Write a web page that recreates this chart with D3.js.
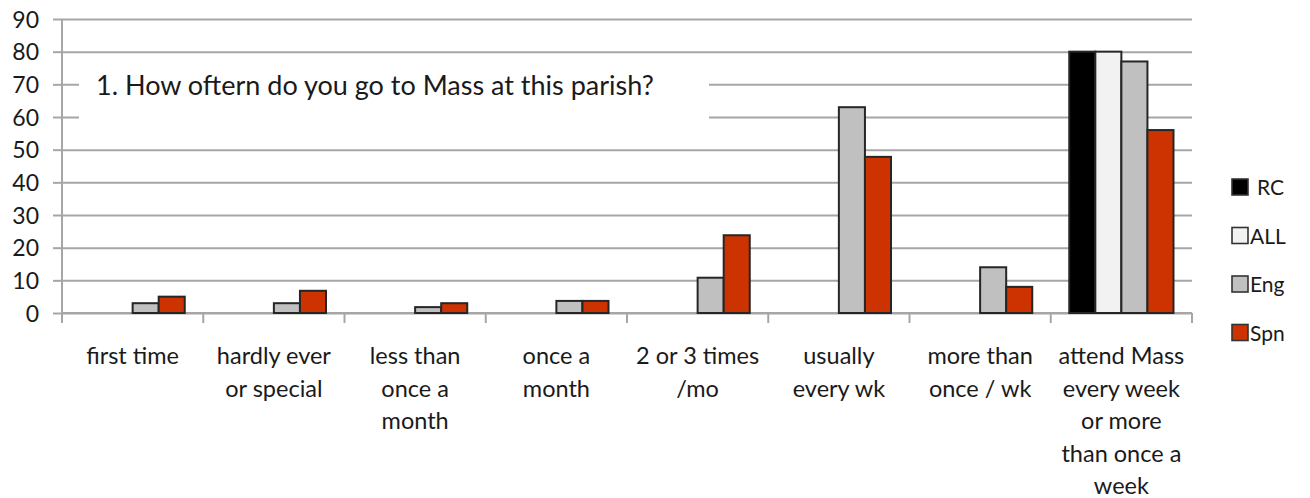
<!DOCTYPE html>
<html>
<head>
<meta charset="utf-8">
<script src="https://cdn.jsdelivr.net/npm/d3@7"></script>
<style>
  body { margin: 0; background: #fff; }
  svg text { font-family: Lato, "Open Sans", sans-serif; fill: #1a1a1a; }
</style>
</head>
<body>
<div id="container"></div>
<script>
var categories = [
    ["first time"],
    ["hardly ever", "or special"],
    ["less than", "once a", "month"],
    ["once a", "month"],
    ["2 or 3 times", "/mo"],
    ["usually", "every wk"],
    ["more than", "once / wk"],
    ["attend Mass", "every week", "or more", "than once a", "week"]
];
var seriesNames = ["RC", "ALL", "Eng", "Spn"];
var rcValues = [0, 0, 0, 0, 0, 0, 0, 80];
var allValues = [0, 0, 0, 0, 0, 0, 0, 80];
var engValues = [3, 3, 1.8, 3.7, 10.8, 63, 14, 77];
var spnValues = [5, 6.8, 3, 3.7, 23.8, 47.8, 8, 56];
var yTicks = [0, 10, 20, 30, 40, 50, 60, 70, 80, 90];
var titleText = "1. How oftern do you go to Mass at this parish?";

var colors = {RC: "#000000", ALL: "#f2f2f2", Eng: "#c0c0c0", Spn: "#cc3300"};
var width = 1310, height = 498;
var margin = {top: 19, left: 62, right: 118, bottom: 185}; // plot area

var svg = d3.select("#container").append("svg")
    .attr("width", width)
    .attr("height", height);

var innerW = width - margin.left - margin.right;
var innerH = height - margin.top - margin.bottom;

var chart = svg.append("g")
    .attr("transform", "translate(" + margin.left + "," + margin.top + ")");

var keys = categories.map(function (d, i) { return i; });
var x0 = d3.scaleBand().domain(keys).range([0, innerW]);
var x1 = d3.scaleBand().domain(seriesNames).range([18.5, x0.bandwidth() - 18.5]);
var y = d3.scaleLinear().domain([0, 90]).range([innerH, 0]);

// gridlines
chart.append("g")
    .attr("class", "grid")
    .call(d3.axisLeft(y).tickValues(yTicks).tickSize(-innerW).tickFormat(""))
    .call(function (g) {
        g.select(".domain").remove();
        g.selectAll("line").attr("stroke", "#a6a6a6").attr("stroke-width", 2);
    });

// y axis
chart.append("g")
    .attr("id", "y-axis")
    .call(d3.axisLeft(y).tickValues(yTicks).tickSize(9).tickPadding(14))
    .call(function (g) {
        g.select(".domain").attr("stroke", "#a6a6a6").attr("stroke-width", 2)
            .attr("d", "M0,0V" + (innerH + 10));
        g.selectAll("line").attr("stroke", "#a6a6a6").attr("stroke-width", 2);
        g.selectAll("text").style("font-size", "23px").style("font-family", "Lato, sans-serif")
            .attr("fill", "#1a1a1a").attr("dy", "0.36em");
    });

// title box covers part of the gridlines
chart.append("rect")
    .attr("x", 17)
    .attr("y", 48)
    .attr("width", 630)
    .attr("height", 60)
    .attr("fill", "#fff");

chart.append("text")
    .attr("x", 34)
    .attr("y", 76)
    .style("font-size", "27px")
    .text(titleText);

// x axis with category ticks
chart.append("g")
    .attr("id", "x-axis")
    .attr("transform", "translate(0," + innerH + ")")
    .call(function (g) {
        g.append("line").attr("x1", 0).attr("x2", innerW)
            .attr("stroke", "#a6a6a6").attr("stroke-width", 2);
        g.selectAll(".ctick")
            .data(d3.range(categories.length + 1))
            .enter().append("line")
            .attr("x1", function (d) { return d * x0.bandwidth(); })
            .attr("x2", function (d) { return d * x0.bandwidth(); })
            .attr("y1", 0).attr("y2", 10)
            .attr("stroke", "#a6a6a6").attr("stroke-width", 2);
    });

// category labels
var labels = chart.append("g").selectAll("text")
    .data(categories)
    .enter().append("text")
    .attr("text-anchor", "middle")
    .style("font-size", "23.5px")
    .attr("transform", function (d, i) {
        return "translate(" + (x0(i) + x0.bandwidth() / 2) + "," + (innerH + 51) + ")";
    });
labels.selectAll("tspan")
    .data(function (d) { return d; })
    .enter().append("tspan")
    .attr("x", 0)
    .attr("y", function (d, i) { return i * 32.5; })
    .text(function (d) { return d; });

// bars
var seriesValues = {RC: rcValues, ALL: allValues, Eng: engValues, Spn: spnValues};
var groups = chart.append("g").selectAll("g")
    .data(keys)
    .enter().append("g")
    .attr("transform", function (d) { return "translate(" + x0(d) + ",0)"; });

groups.selectAll("rect")
    .data(function (i) {
        return seriesNames.map(function (s) { return {key: s, value: seriesValues[s][i]}; })
            .filter(function (d) { return d.value > 0; });
    })
    .enter().append("rect")
    .attr("x", function (d) { return x1(d.key); })
    .attr("y", function (d) { return y(d.value); })
    .attr("width", x1.bandwidth())
    .attr("height", function (d) { return innerH - y(d.value); })
    .attr("fill", function (d) { return colors[d.key]; })
    .attr("stroke", "#262626")
    .attr("stroke-width", 2);

// legend
var legend = svg.append("g").selectAll("g")
    .data(seriesNames)
    .enter().append("g")
    .attr("transform", function (d, i) {
        return "translate(1232," + (179 + i * 48.5) + ")";
    });

legend.append("rect")
    .attr("width", 16)
    .attr("height", 16)
    .attr("fill", function (d) { return colors[d]; })
    .attr("stroke", "#333")
    .attr("stroke-width", 1.6);

legend.append("text")
    .attr("x", function (d) { return d == "RC" ? 25 : 18; })
    .attr("y", 16)
    .style("font-size", "21px")
    .text(function (d) { return d; });
</script>
</body>
</html>
